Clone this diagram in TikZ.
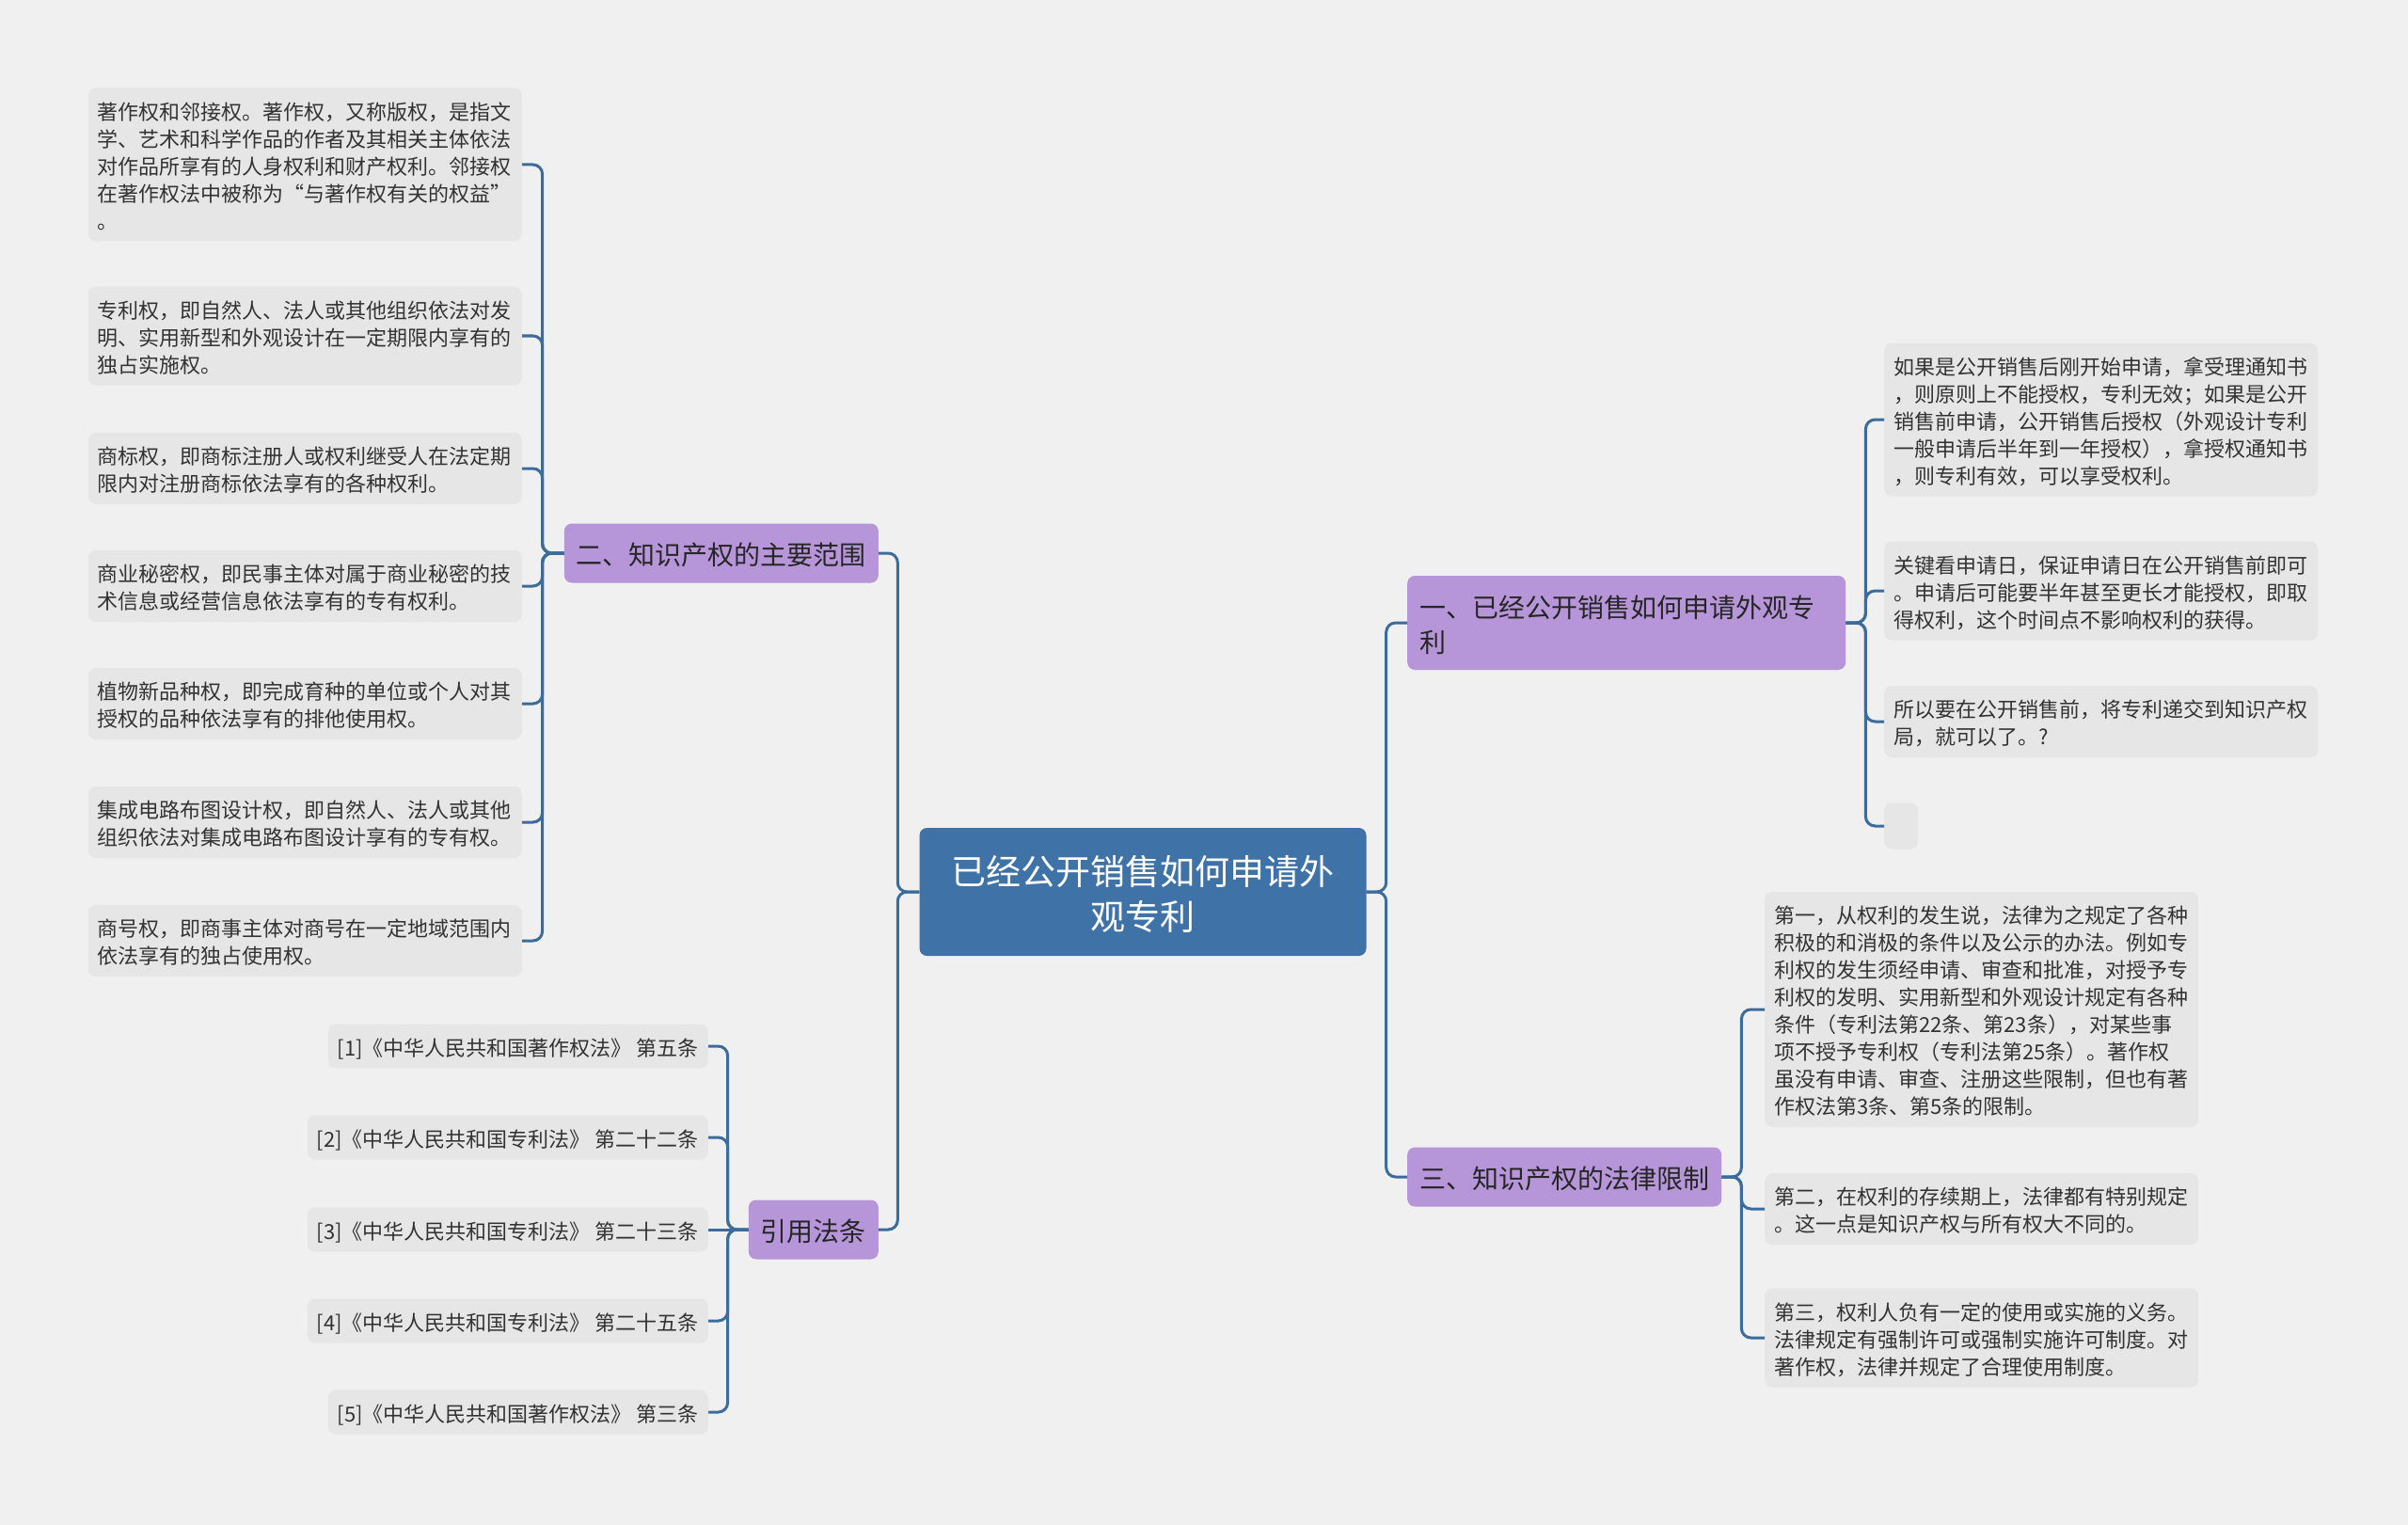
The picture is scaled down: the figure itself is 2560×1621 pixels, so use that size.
\documentclass[tikz,border=0pt]{standalone}
\usepackage{fontspec}
\setmainfont{Noto Sans CJK SC}
\usetikzlibrary{positioning}
\definecolor{pagebg}{HTML}{F0F0F0}
\definecolor{leafbg}{HTML}{E6E6E6}
\definecolor{rootbg}{HTML}{3F72A6}
\definecolor{topicbg}{HTML}{B696D9}
\definecolor{linkcol}{HTML}{3B6C9B}
\definecolor{inkcol}{HTML}{333333}
\newcommand\linestrut{\rule[-.15\baselineskip]{0pt}{\baselineskip}}

\begin{document}
\begin{tikzpicture}[
  x=1pt,y=-1pt,
  boxed/.style={rounded corners=8pt,execute at begin node=\linestrut,execute at end node=\linestrut},
  root/.style={boxed,fill=rootbg,text=white,font=\fontsize{37pt}{48pt}\selectfont,align=center,text width=415pt,inner xsep=30pt,inner ysep=20pt},
  topic/.style={boxed,fill=topicbg,text=black!85,font=\fontsize{28pt}{37pt}\selectfont,align=left,inner xsep=13pt,inner ysep=13pt},
  leaf/.style={boxed,fill=leafbg,text=inkcol,font=\fontsize{22pt}{29pt}\selectfont,align=left,inner xsep=10pt,inner ysep=9pt},
  note/.style={leaf,text width=441pt},
  link/.style={draw=linkcol,line width=3pt,rounded corners=10pt}
]
  \fill[pagebg] (0,0) rectangle (2560,1621);

  \node[root] (main) at (1215,948) {已经公开销售如何申请外\\观专利};

  \node[topic,anchor=west,text width=440pt] (sale) at (1496,662) {一、已经公开销售如何申请外观专\\利};
  \node[topic,anchor=east] (scope) at (934,588) {二、知识产权的主要范围};
  \node[topic,anchor=west] (limit) at (1496,1251) {三、知识产权的法律限制};
  \node[topic,anchor=east] (laws) at (934,1307) {引用法条};

  \node[note,anchor=east] (copy) at (555,175) {著作权和邻接权。著作权，又称版权，是指文\\学、艺术和科学作品的作者及其相关主体依法\\对作品所享有的人身权利和财产权利。邻接权\\在著作权法中被称为“与著作权有关的权益”\\。};
  \node[note,anchor=east] (patent) at (555,357) {专利权，即自然人、法人或其他组织依法对发\\明、实用新型和外观设计在一定期限内享有的\\独占实施权。};
  \node[note,anchor=east] (mark) at (555,498) {商标权，即商标注册人或权利继受人在法定期\\限内对注册商标依法享有的各种权利。};
  \node[note,anchor=east] (secret) at (555,623) {商业秘密权，即民事主体对属于商业秘密的技\\术信息或经营信息依法享有的专有权利。};
  \node[note,anchor=east] (plant) at (555,748) {植物新品种权，即完成育种的单位或个人对其\\授权的品种依法享有的排他使用权。};
  \node[note,anchor=east] (chip) at (555,874) {集成电路布图设计权，即自然人、法人或其他\\组织依法对集成电路布图设计享有的专有权。};
  \node[note,anchor=east] (trade) at (555,1000) {商号权，即商事主体对商号在一定地域范围内\\依法享有的独占使用权。};

  \node[leaf,anchor=east] (law1) at (753,1112) {[1]《中华人民共和国著作权法》 第五条};
  \node[leaf,anchor=east] (law2) at (753,1209) {[2]《中华人民共和国专利法》 第二十二条};
  \node[leaf,anchor=east] (law3) at (753,1307) {[3]《中华人民共和国专利法》 第二十三条};
  \node[leaf,anchor=east] (law4) at (753,1404) {[4]《中华人民共和国专利法》 第二十五条};
  \node[leaf,anchor=east] (law5) at (753,1501) {[5]《中华人民共和国著作权法》 第三条};

  \node[note,anchor=west] (after) at (2003,446) {如果是公开销售后刚开始申请，拿受理通知书\\，则原则上不能授权，专利无效；如果是公开\\销售前申请，公开销售后授权（外观设计专利\\一般申请后半年到一年授权），拿授权通知书\\，则专利有效，可以享受权利。};
  \node[note,anchor=west] (date) at (2003,628) {关键看申请日，保证申请日在公开销售前即可\\。申请后可能要半年甚至更长才能授权，即取\\得权利，这个时间点不影响权利的获得。};
  \node[note,anchor=west] (before) at (2003,767) {所以要在公开销售前，将专利递交到知识产权\\局，就可以了。?};
  \node[leaf,anchor=west,minimum width=36pt,minimum height=49pt] (blank) at (2003,878) {};

  \node[note,anchor=west] (first) at (1876,1073) {第一，从权利的发生说，法律为之规定了各种\\积极的和消极的条件以及公示的办法。例如专\\利权的发生须经申请、审查和批准，对授予专\\利权的发明、实用新型和外观设计规定有各种\\条件（专利法第22条、第23条），对某些事\\项不授予专利权（专利法第25条）。著作权\\虽没有申请、审查、注册这些限制，但也有著\\作权法第3条、第5条的限制。};
  \node[note,anchor=west] (second) at (1876,1285) {第二，在权利的存续期上，法律都有特别规定\\。这一点是知识产权与所有权大不同的。};
  \node[note,anchor=west] (third) at (1876,1422) {第三，权利人负有一定的使用或实施的义务。\\法律规定有强制许可或强制实施许可制度。对\\著作权，法律并规定了合理使用制度。};

  \draw[link] (main.east) -- ++(21,0) |- (sale.west);
  \draw[link] (main.east) -- ++(21,0) |- (limit.west);
  \draw[link] (main.west) -- ++(-23,0) |- (scope.east);
  \draw[link] (main.west) -- ++(-23,0) |- (laws.east);

  \draw[link] (sale.east) -- ++(21,0) |- (after.west);
  \draw[link] (sale.east) -- ++(21,0) |- (date.west);
  \draw[link] (sale.east) -- ++(21,0) |- (before.west);
  \draw[link] (sale.east) -- ++(21,0) |- (blank.west);

  \draw[link] (limit.east) -- ++(21,0) |- (first.west);
  \draw[link] (limit.east) -- ++(21,0) |- (second.west);
  \draw[link] (limit.east) -- ++(21,0) |- (third.west);

  \draw[link] (scope.west) -- ++(-23,0) |- (copy.east);
  \draw[link] (scope.west) -- ++(-23,0) |- (patent.east);
  \draw[link] (scope.west) -- ++(-23,0) |- (mark.east);
  \draw[link] (scope.west) -- ++(-23,0) |- (secret.east);
  \draw[link] (scope.west) -- ++(-23,0) |- (plant.east);
  \draw[link] (scope.west) -- ++(-23,0) |- (chip.east);
  \draw[link] (scope.west) -- ++(-23,0) |- (trade.east);

  \draw[link] (laws.west) -- ++(-22,0) |- (law1.east);
  \draw[link] (laws.west) -- ++(-22,0) |- (law2.east);
  \draw[link] (laws.west) -- (law3.east);
  \draw[link] (laws.west) -- ++(-22,0) |- (law4.east);
  \draw[link] (laws.west) -- ++(-22,0) |- (law5.east);
\end{tikzpicture}
\end{document}
